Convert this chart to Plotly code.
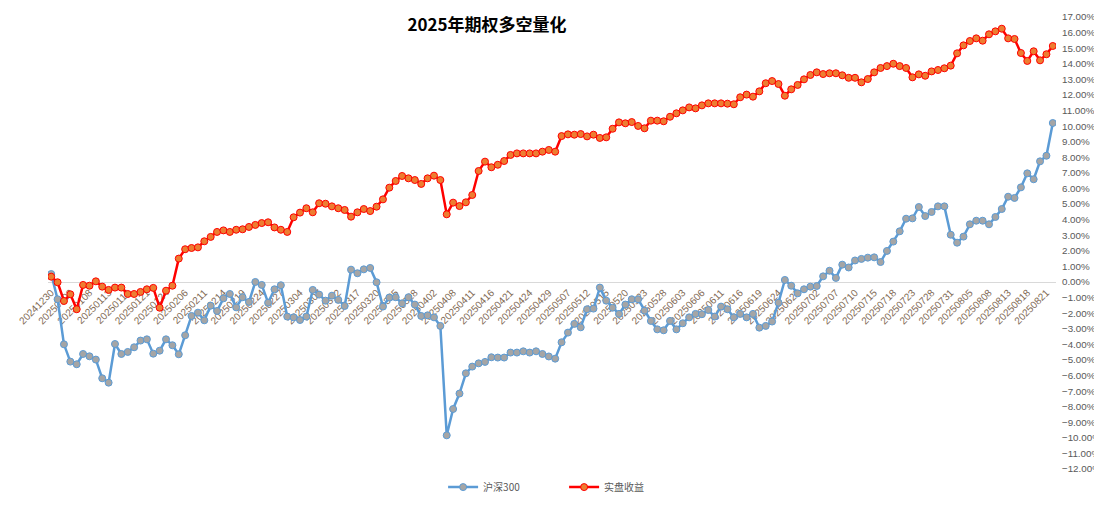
import plotly.graph_objects as go

dates = [
    "20241230", "20241231",
    "20250102", "20250103", "20250106", "20250107", "20250108", "20250109", "20250110",
    "20250113", "20250114", "20250115", "20250116", "20250117", "20250120", "20250121",
    "20250122", "20250123", "20250124", "20250127",
    "20250205", "20250206", "20250207", "20250210", "20250211", "20250212", "20250213",
    "20250214", "20250217", "20250218", "20250219", "20250220", "20250221", "20250224",
    "20250225", "20250226", "20250227", "20250228",
    "20250303", "20250304", "20250305", "20250306", "20250307", "20250310", "20250311",
    "20250312", "20250313", "20250314", "20250317", "20250318", "20250319", "20250320",
    "20250321", "20250324", "20250325", "20250326", "20250327", "20250328", "20250331",
    "20250401", "20250402", "20250403", "20250407", "20250408", "20250409", "20250410",
    "20250411", "20250414", "20250415", "20250416", "20250417", "20250418", "20250421",
    "20250422", "20250423", "20250424", "20250425", "20250428", "20250429", "20250430",
    "20250506", "20250507", "20250508", "20250509", "20250512", "20250513", "20250514",
    "20250515", "20250516", "20250519", "20250520", "20250521", "20250522", "20250523",
    "20250526", "20250527", "20250528", "20250529", "20250530",
    "20250603", "20250604", "20250605", "20250606", "20250609", "20250610", "20250611",
    "20250612", "20250613", "20250616", "20250617", "20250618", "20250619", "20250620",
    "20250623", "20250624", "20250625", "20250626", "20250627", "20250630",
    "20250701", "20250702", "20250703", "20250704", "20250707", "20250708", "20250709",
    "20250710", "20250711", "20250714", "20250715", "20250716", "20250717", "20250718",
    "20250721", "20250722", "20250723", "20250724", "20250725", "20250728", "20250729",
    "20250730", "20250731",
    "20250801", "20250804", "20250805", "20250806", "20250807", "20250808", "20250811",
    "20250812", "20250813", "20250814", "20250815", "20250818", "20250819", "20250820",
    "20250821", "20250822",
]

# 沪深300 cumulative return (%)
hs300 = [
    0.51, -1.11, -4.00, -5.11, -5.28, -4.62, -4.77, -4.98, -6.18, -6.46,
    -3.98, -4.62, -4.49, -4.19, -3.76, -3.68, -4.60, -4.41, -3.68, -4.06,
    -4.64, -3.42, -2.18, -1.97, -2.46, -1.52, -1.86, -1.05, -0.77, -1.63,
    -0.98, -1.28, 0.00, -0.19, -1.33, -0.47, -0.21, -2.22, -2.27, -2.44,
    -2.22, -0.51, -0.81, -1.20, -0.88, -1.15, -1.54, 0.79, 0.56, 0.81,
    0.90, -0.02, -1.58, -1.00, -0.98, -1.37, -0.98, -1.45, -2.18, -2.14,
    -2.27, -2.82, -9.84, -8.15, -7.16, -5.86, -5.43, -5.22, -5.13, -4.83,
    -4.85, -4.85, -4.53, -4.53, -4.45, -4.53, -4.45, -4.62, -4.78, -4.92,
    -3.87, -3.25, -2.69, -2.91, -1.75, -1.71, -0.36, -1.20, -1.65, -2.05,
    -1.45, -1.11, -1.11, -1.84, -2.50, -3.04, -3.10, -2.50, -3.04, -2.65,
    -2.27, -2.05, -2.07, -1.80, -2.22, -1.58, -1.75, -2.27, -2.05, -2.27,
    -2.05, -2.93, -2.82, -2.54, -1.33, 0.13, -0.24, -0.73, -0.47, -0.30,
    -0.26, 0.36, 0.72, 0.26, 1.11, 0.93, 1.38, 1.48, 1.56, 1.58,
    1.28, 1.99, 2.59, 3.25, 4.06, 4.08, 4.81, 4.23, 4.49, 4.85,
    4.85, 3.03, 2.52, 2.91, 3.70, 3.93, 3.93, 3.70, 4.17, 4.68,
    5.47, 5.39, 6.07, 6.97, 6.59, 7.74, 8.10, 10.20,
]

# 实盘收益 cumulative return (%)
shipan = [
    0.34, -0.02, -1.22, -0.79, -1.75, -0.19, -0.24, 0.04, -0.30, -0.51,
    -0.36, -0.36, -0.77, -0.77, -0.64, -0.47, -0.38, -1.65, -0.56, -0.24,
    1.50, 2.10, 2.18, 2.22, 2.61, 2.89, 3.21, 3.31, 3.21, 3.35,
    3.38, 3.53, 3.66, 3.78, 3.83, 3.50, 3.35, 3.21, 4.15, 4.45,
    4.73, 4.47, 5.05, 5.02, 4.85, 4.73, 4.62, 4.19, 4.47, 4.68,
    4.55, 4.83, 5.30, 6.05, 6.48, 6.80, 6.65, 6.54, 6.29, 6.65,
    6.82, 6.54, 4.34, 5.09, 4.87, 5.11, 5.58, 7.12, 7.72, 7.36,
    7.52, 7.76, 8.15, 8.25, 8.25, 8.25, 8.25, 8.36, 8.47, 8.36,
    9.36, 9.47, 9.45, 9.49, 9.34, 9.45, 9.24, 9.28, 9.83, 10.24,
    10.18, 10.26, 10.01, 9.86, 10.35, 10.35, 10.31, 10.60, 10.82, 11.01,
    11.20, 11.14, 11.33, 11.46, 11.46, 11.46, 11.44, 11.40, 11.85, 12.02,
    11.89, 12.23, 12.75, 12.89, 12.70, 11.95, 12.36, 12.64, 13.00, 13.28,
    13.45, 13.34, 13.39, 13.39, 13.26, 13.10, 13.10, 12.81, 13.02, 13.45,
    13.73, 13.85, 14.00, 13.85, 13.73, 13.13, 13.32, 13.23, 13.51, 13.60,
    13.71, 13.88, 14.67, 15.18, 15.46, 15.63, 15.48, 15.89, 16.08, 16.25,
    15.63, 15.59, 14.69, 14.18, 14.80, 14.22, 14.61, 15.14,
]

tick_dates = dates[::3]

series_names = ["沪深300", "实盘收益"]

Y_MIN, Y_MAX = -0.12, 0.17

# the page body adds an 8px offset, so the figure is sized to fill the rest
W, H = 1094, 497

fig = go.Figure()
fig.add_trace(go.Scatter(
    x=dates, y=[v / 100 for v in hs300], name=series_names[0],
    mode="lines+markers",
    line=dict(color="#5B9BD5", width=2.5),
    marker=dict(size=7, color="#A5A5A5", line=dict(color="#5B9BD5", width=1)),
))
fig.add_trace(go.Scatter(
    x=dates, y=[v / 100 for v in shipan], name=series_names[1],
    mode="lines+markers",
    line=dict(color="#FF0000", width=2.5),
    marker=dict(size=7, color="#ED7D31", line=dict(color="#FF0000", width=1)),
))

fig.update_layout(
    width=W, height=H,
    paper_bgcolor="white", plot_bgcolor="white",
    margin=dict(l=39.5, r=46, t=9, b=36, autoexpand=False),
    title=dict(
        text="<b>2025年期权多空量化</b>",
        x=479 / W, xref="container", xanchor="center",
        y=1 - 17 / H, yref="container", yanchor="middle",
        font=dict(family="Noto Sans CJK SC", size=17, color="#000000"),
    ),
    showlegend=True,
    legend=dict(
        orientation="h", x=0.512, xanchor="center", y=-0.04, yanchor="middle",
        font=dict(family="Noto Sans CJK SC", size=10, color="#595959"),
        entrywidth=76, entrywidthmode="pixels",
        bgcolor="rgba(0,0,0,0)",
    ),
    xaxis=dict(
        type="category",
        range=[-0.5, len(dates) - 0.5],
        anchor="free",
        position=(0 - Y_MIN) / (Y_MAX - Y_MIN),
        showline=True, linecolor="#D9D9D9", linewidth=1,
        showgrid=False, zeroline=False,
        ticks="",
        tickmode="array", tickvals=tick_dates, ticktext=tick_dates,
        tickangle=-45,
        tickfont=dict(family="Liberation Sans", size=10, color="#7F6A55"),
        layer="below traces",
    ),
    yaxis=dict(
        side="right",
        range=[Y_MIN, Y_MAX],
        tick0=0, dtick=0.01,
        tickformat=".2%",
        showgrid=False, zeroline=False, showline=False,
        ticks="outside", ticklen=3, tickcolor="rgba(0,0,0,0)",
        tickfont=dict(family="Liberation Sans", size=9.8, color="#595959"),
    ),
)

fig.write_html("out.html")
